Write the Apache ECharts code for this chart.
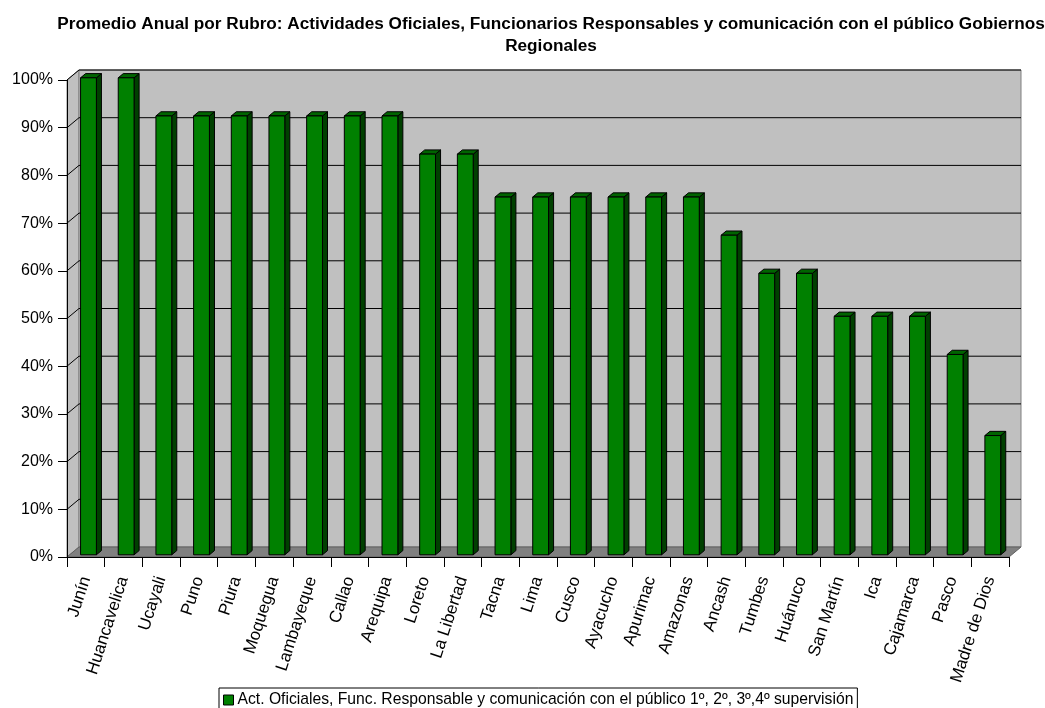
<!DOCTYPE html>
<html>
<head>
<meta charset="utf-8">
<script src="https://cdn.jsdelivr.net/npm/echarts@6/dist/echarts.min.js"></script>
<style>
  html, body { margin: 0; padding: 0; background: #fff; }
  #chart { width: 1045px; height: 708px; }
</style>
</head>
<body>
<div id="chart"></div>
<script>
// regiones y promedio anual (%)
const regiones = ["Junín", "Huancavelica", "Ucayali", "Puno", "Piura", "Moquegua", "Lambayeque",
  "Callao", "Arequipa", "Loreto", "La Libertad", "Tacna", "Lima", "Cusco", "Ayacucho",
  "Apurimac", "Amazonas", "Ancash", "Tumbes", "Huánuco", "San Martín", "Ica", "Cajamarca",
  "Pasco", "Madre de Dios"];
const promedio = [100, 100, 92, 92, 92, 92, 92, 92, 92, 84, 84, 75, 75, 75, 75, 75, 75,
  67, 59, 59, 50, 50, 50, 42, 25];
const yTicks = [0, 10, 20, 30, 40, 50, 60, 70, 80, 90, 100];

const serieNombre = "Act. Oficiales, Func. Responsable y comunicación con el público 1º, 2º, 3º,4º supervisión";
const font = "'Liberation Sans', Arial, sans-serif";

// desplazamiento 3D (px) hacia el fondo
const DX = 12, DY = -10;

function renderWalls(params, api) {
  const bw = api.size([1, 0])[0];
  const first = api.coord([0, 0]);
  const last = api.coord([regiones.length - 1, 0]);
  const x0 = first[0] - bw / 2, x1 = last[0] + bw / 2;
  const y0 = first[1];
  const yTop = api.coord([0, 100])[1];
  const children = [];
  // pared lateral
  children.push({
    type: "polygon",
    shape: { points: [[x0, y0], [x0, yTop], [x0 + DX, yTop + DY], [x0 + DX, y0 + DY]] },
    style: { fill: "#c0c0c0", stroke: "#808080", lineWidth: 1 }
  });
  // pared del fondo
  children.push({
    type: "polygon",
    shape: { points: [[x0 + DX, yTop + DY], [x1 + DX, yTop + DY], [x1 + DX, y0 + DY], [x0 + DX, y0 + DY]] },
    style: { fill: "#c0c0c0", stroke: "#808080", lineWidth: 1 }
  });
  // lineas de division
  yTicks.forEach(function (t) {
    if (t === 0) return;
    const y = api.coord([0, t])[1];
    children.push({
      type: "polyline",
      shape: { points: [[x0, y], [x0 + DX, y + DY], [x1 + DX, y + DY]] },
      style: { stroke: "#000", lineWidth: 1, fill: null }
    });
  });
  // piso
  children.push({
    type: "polygon",
    shape: { points: [[x0, y0], [x1, y0], [x1 + DX, y0 + DY], [x0 + DX, y0 + DY]] },
    style: { fill: "#808080", stroke: "#606060", lineWidth: 1 }
  });
  return { type: "group", children: children };
}

function renderBar(params, api) {
  const idx = api.value(0);
  const top = api.coord([idx, api.value(1)]);
  const base = api.coord([idx, 0]);
  const half = api.size([1, 0])[0] * 0.21;
  const fx = DX * 0.22, fy = DY * 0.22;
  const bx = DX * 0.64, by = DY * 0.64;
  const xl = top[0] - half + fx, xr = top[0] + half + fx;
  const yt = top[1] + fy, yb = base[1] + fy;
  const line = { stroke: "#000", lineWidth: 1 };
  return {
    type: "group",
    children: [
      {
        type: "polygon",
        shape: { points: [[xr, yt], [xr - fx + bx, yt - fy + by], [xr - fx + bx, yb - fy + by], [xr, yb]] },
        style: Object.assign({ fill: "#004000" }, line)
      },
      {
        type: "polygon",
        shape: { points: [[xl, yt], [xl - fx + bx, yt - fy + by], [xr - fx + bx, yt - fy + by], [xr, yt]] },
        style: Object.assign({ fill: "#006400" }, line)
      },
      {
        type: "rect",
        shape: { x: xl, y: yt, width: xr - xl, height: yb - yt },
        style: Object.assign({ fill: "#008000" }, line)
      }
    ]
  };
}

const chart = echarts.init(document.getElementById("chart"));
chart.setOption({
  backgroundColor: "#fff",
  animation: false,
  title: {
    text: "Promedio Anual por Rubro: Actividades Oficiales, Funcionarios Responsables y comunicación con el público Gobiernos\nRegionales",
    left: 546,
    textAlign: "center",
    top: 8,
    textStyle: { fontFamily: font, fontSize: 17.2, fontWeight: "bold", color: "#000", lineHeight: 22 }
  },
  legend: {
    data: [serieNombre],
    top: 688,
    left: 219,
    padding: [4, 4, 4, 4],
    borderColor: "#000",
    borderWidth: 1,
    icon: "rect",
    itemWidth: 10,
    itemHeight: 10,
    itemGap: 3,
    itemStyle: { borderColor: "#000", borderWidth: 1 },
    textStyle: { fontFamily: font, fontSize: 15.7, color: "#000", padding: [0, 0, 0, -1] }
  },
  grid: { left: 67, right: 36, top: 80, bottom: 151 },
  xAxis: {
    type: "category",
    data: regiones,
    z: 5,
    axisLine: { lineStyle: { color: "#000", width: 1 } },
    axisTick: { show: true, length: 10, lineStyle: { color: "#000" } },
    axisLabel: { rotate: 72, margin: 20, interval: 0, padding: [0, 0, 14, 0], fontFamily: font, fontSize: 17, color: "#000" },
    splitLine: { show: false }
  },
  yAxis: {
    type: "value",
    min: 0,
    max: 100,
    interval: 10,
    z: 5,
    axisLine: { show: true, lineStyle: { color: "#000", width: 1 } },
    axisTick: { show: true, length: 9, lineStyle: { color: "#000" } },
    axisLabel: { formatter: "{value}%", margin: 14, fontFamily: font, fontSize: 16, color: "#000" },
    splitLine: { show: false }
  },
  series: [
    {
      type: "custom",
      name: "paredes",
      z: 1,
      clip: false,
      silent: true,
      renderItem: renderWalls,
      data: [[0, 0]]
    },
    {
      type: "custom",
      name: serieNombre,
      z: 2,
      clip: false,
      itemStyle: { color: "#008000" },
      renderItem: renderBar,
      data: promedio.map(function (v, i) { return [i, v]; })
    }
  ]
});
</script>
</body>
</html>
